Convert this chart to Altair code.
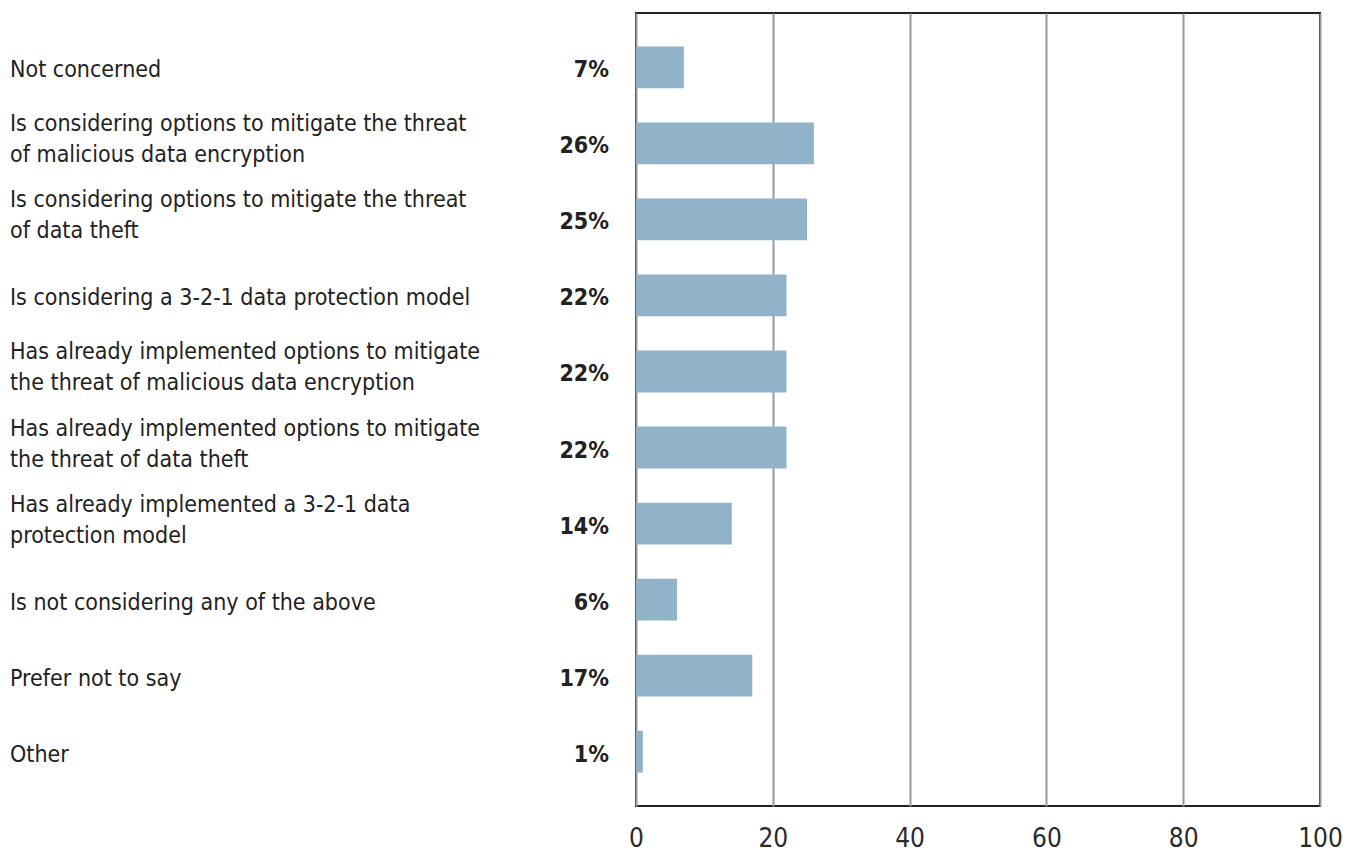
import altair as alt
import pandas as pd

categories = [
    "Not concerned",
    "Is considering options to mitigate the threat\nof malicious data encryption",
    "Is considering options to mitigate the threat\nof data theft",
    "Is considering a 3-2-1 data protection model",
    "Has already implemented options to mitigate\nthe threat of malicious data encryption",
    "Has already implemented options to mitigate\nthe threat of data theft",
    "Has already implemented a 3-2-1 data\nprotection model",
    "Is not considering any of the above",
    "Prefer not to say",
    "Other",
]
values = [7, 26, 25, 22, 22, 22, 14, 6, 17, 1]
pct_labels = ["7%", "26%", "25%", "22%", "22%", "22%", "14%", "6%", "17%", "1%"]
x_ticks = [0, 20, 40, 60, 80, 100]

df = pd.DataFrame({"cat": categories, "value": values, "pct": pct_labels})
df["multi"] = df["cat"].str.contains("\n")

FONT = "Liberation Sans Narrow, DejaVu Sans Condensed, sans-serif"

y_enc = alt.Y(
    "cat:N",
    sort=categories,
    axis=None,
    scale=alt.Scale(paddingInner=0.45, paddingOuter=0.44),
)

bars = alt.Chart(df).mark_bar(color="#91b3c9").encode(
    x=alt.X(
        "value:Q",
        scale=alt.Scale(domain=[0, 100], nice=False),
        axis=alt.Axis(
            values=x_ticks,
            title=None,
            grid=True,
            gridColor="#999999",
            gridWidth=2,
            ticks=False,
            domain=False,
            labelFontSize=26,
            labelFont=FONT,
            labelColor="#2a2a2a",
            labelPadding=19,
            labelFlush=False,
        ),
    ),
    y=y_enc,
)

pct = alt.Chart(df).mark_text(
    align="right", baseline="middle", fontSize=23, fontWeight="bold",
    font=FONT, color="#222222", dy=3,
).encode(x=alt.value(-27), y=y_enc, text="pct:N")

labels_single = alt.Chart(df).transform_filter(
    "!datum.multi"
).mark_text(
    align="left", baseline="middle", fontSize=23, font=FONT,
    color="#222222", dy=3,
).encode(x=alt.value(-626), y=y_enc, text="cat:N")

labels_multi = alt.Chart(df).transform_filter(
    "datum.multi"
).mark_text(
    align="left", baseline="middle", fontSize=23, font=FONT,
    color="#222222", lineBreak="\n", lineHeight=31, dy=-19,
).encode(x=alt.value(-626), y=y_enc, text="cat:N")

chart = alt.layer(bars, pct, labels_single, labels_multi).properties(
    width=684, height=793,
    padding={"left": 2, "top": 5, "right": 0, "bottom": 0},
).configure(background="white").configure_view(stroke="#222222", strokeWidth=2)

chart.save("out.html", embed_options={"renderer": "svg", "actions": False})
